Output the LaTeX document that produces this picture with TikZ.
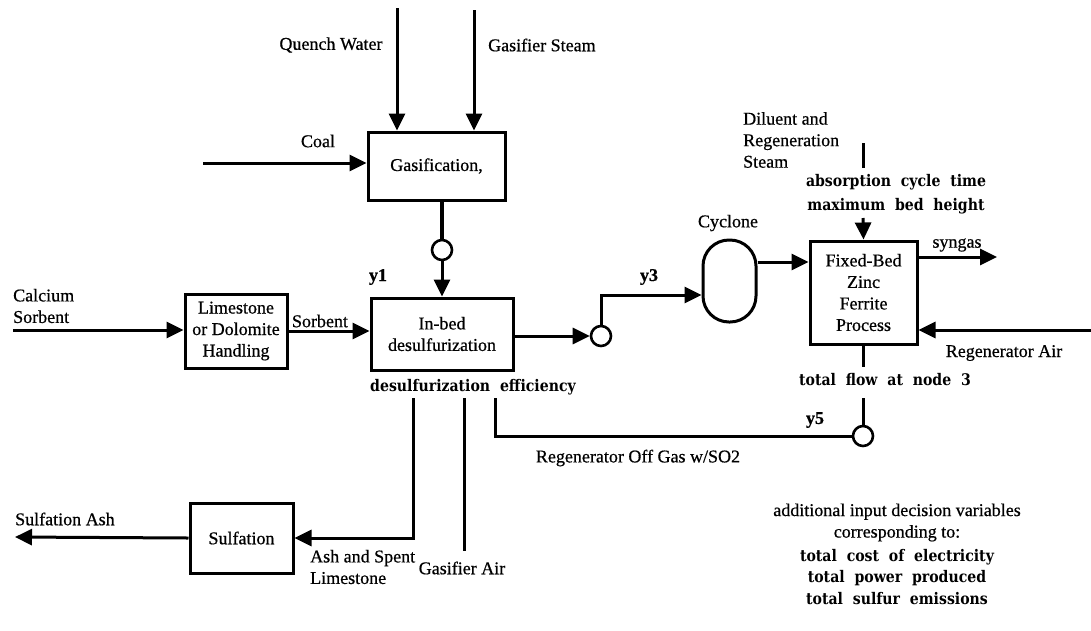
\documentclass[tikz,border=0pt]{standalone}
\usepackage{fontspec}
\setmainfont[FakeBold=0.6]{Liberation Serif}
\newfontfamily\varfont[WordSpace=2.0, FakeStretch=0.88]{DejaVu Serif}
\usetikzlibrary{arrows.meta,positioning,calc}

\begin{document}
\begin{tikzpicture}[
  x=1pt, y=-1pt,
  font=\fontsize{18}{21.5}\selectfont,
  box/.style={draw, line width=3pt, inner sep=0pt, align=center},
  lbl/.style={inner sep=0pt, align=left},
  ylbl/.style={inner sep=0pt, font=\fontsize{18}{21.5}\selectfont\bfseries},
  dvar/.style={inner sep=0pt, align=center, font=\varfont\bfseries\fontsize{16}{24}\selectfont},
  junc/.style={draw, circle, line width=2.6pt, minimum size=20pt, inner sep=0pt},
  arr/.style={-{Triangle[length=17pt,width=16pt]}, line width=3pt},
  flow/.style={line width=3pt}
]
\useasboundingbox (0,0) rectangle (1091,630);

% process units
\node[box, minimum width=137pt, minimum height=68pt] (gasif) at (436.5,166) {Gasification,};
\node[box, minimum width=102pt, minimum height=74pt] (lime) at (236,331) {Limestone\\or Dolomite\\Handling};
\node[box, minimum width=142pt, minimum height=72pt] (inbed) at (442,334) {In-bed\\desulfurization};
\node[box, minimum width=103pt, minimum height=70pt] (sulf) at (241.5,538) {Sulfation};
\node[box, minimum width=107pt, minimum height=103pt] (zinc) at (863.5,292.5) {Fixed-Bed\\Zinc\\Ferrite\\Process};
\node[draw, line width=3pt, rounded corners=26pt, minimum width=53pt, minimum height=82pt] (cyc) at (729.5,281) {};
\node[junc] (j1) at (442,250) {};
\node[junc] (j3) at (601,336) {};
\node[junc] (j5) at (863,436) {};

% labels
\node[lbl] (qwlbl) at (331,45) {Quench Water};
\node[lbl, anchor=west] (gslbl) at (488,45) {Gasifier Steam};
\node[lbl] (coallbl) at (318,141) {Coal};
\node[ylbl] (y1) at (378,277) {y1};
\node[lbl, anchor=west] (calbl) at (13,306) {Calcium\\Sorbent};
\node[lbl] (sorblbl) at (320,321) {Sorbent};
\node[dvar] (effvar) at (473,387) {desulfurization efficiency};
\node[ylbl] (y3) at (649,277) {y3};
\node[lbl] (cyclbl) at (728,223) {Cyclone};
\node[lbl, anchor=west] (dillbl) at (743,140) {Diluent and\\Regeneration\\Steam};
\node[dvar] (cycvar) at (896,194) {absorption cycle time\\maximum bed height};
\node[lbl] (synlbl) at (957,245) {syngas};
\node[lbl] (ralbl) at (1004,353) {Regenerator Air};
\node[dvar] (flowvar) at (885,380) {total flow at node 3};
\node[ylbl] (y5) at (815,420) {y5};
\node[lbl] (offlbl) at (638,458) {Regenerator Off Gas w/SO2};
\node[lbl, anchor=west] (salbl) at (15,519) {Sulfation Ash};
\node[lbl, anchor=west] (spentlbl) at (310,567) {Ash and Spent\\Limestone};
\node[lbl] (galbl) at (462,568) {Gasifier Air};
\node[lbl, align=center] (addlbl) at (897,522.5) {additional input decision variables\\corresponding to:};
\node[dvar, font=\varfont\bfseries\fontsize{16}{21.5}\selectfont] (objvar) at (897,577) {total cost of electricity\\total power produced\\total sulfur emissions};

% free ends
\coordinate (qwin) at (397,8);
\coordinate (gsin) at (474,10);
\coordinate (coalin) at (203,163);
\coordinate (cain) at (13,330);
\coordinate (synout) at (997,257);
\coordinate (airin) at (1091,330);
\coordinate (dilin) at (863,143);
\coordinate (dilbrk) at (863,218);
\coordinate (flowbrk) at (863,398);
\coordinate (ashtop) at (413,398);
\coordinate (gatop) at (464,398);
\coordinate (gabot) at (464,551);
\coordinate (offtop) at (495,398);
\coordinate (ashout) at (15,537);

% streams
\draw[arr] (qwin) -- (qwin |- gasif.north);
\draw[arr] (gsin) -- (gsin |- gasif.north);
\draw[arr] (coalin) -- (coalin -| gasif.west);
\draw[line width=4.5pt] (j1 |- gasif.south) -- (j1.north);
\draw[arr] (j1.south) -- (j1 |- inbed.north);
\draw[arr] (cain) -- (cain -| lime.west);
\draw[arr] (lime.east) -- (lime.east -| inbed.west);
\draw[arr] (inbed.east |- j3) -- (j3.west);
\draw[arr] (j3.north) |- ([yshift=-14pt]cyc.west);
\draw[arr] ([yshift=19pt]cyc.east) -- ([yshift=19pt]cyc.east -| zinc.west);
\draw[arr] (synout -| zinc.east) -- (synout);
\draw[arr] (airin) -- (airin -| zinc.east);
\draw[flow] (dilin) -- ++(0,25);
\draw[arr] (dilbrk) -- (zinc.north);
\draw[flow] (zinc.south) -- ++(0,21);
\draw[flow] (flowbrk) -- (j5.north);
\draw[flow] (j5.west) -| (offtop);
\draw[arr] (ashtop) |- (sulf.east);
\draw[flow] (gatop) -- (gabot);
\draw[arr] (sulf.west) -- (ashout);

\end{tikzpicture}
\end{document}
